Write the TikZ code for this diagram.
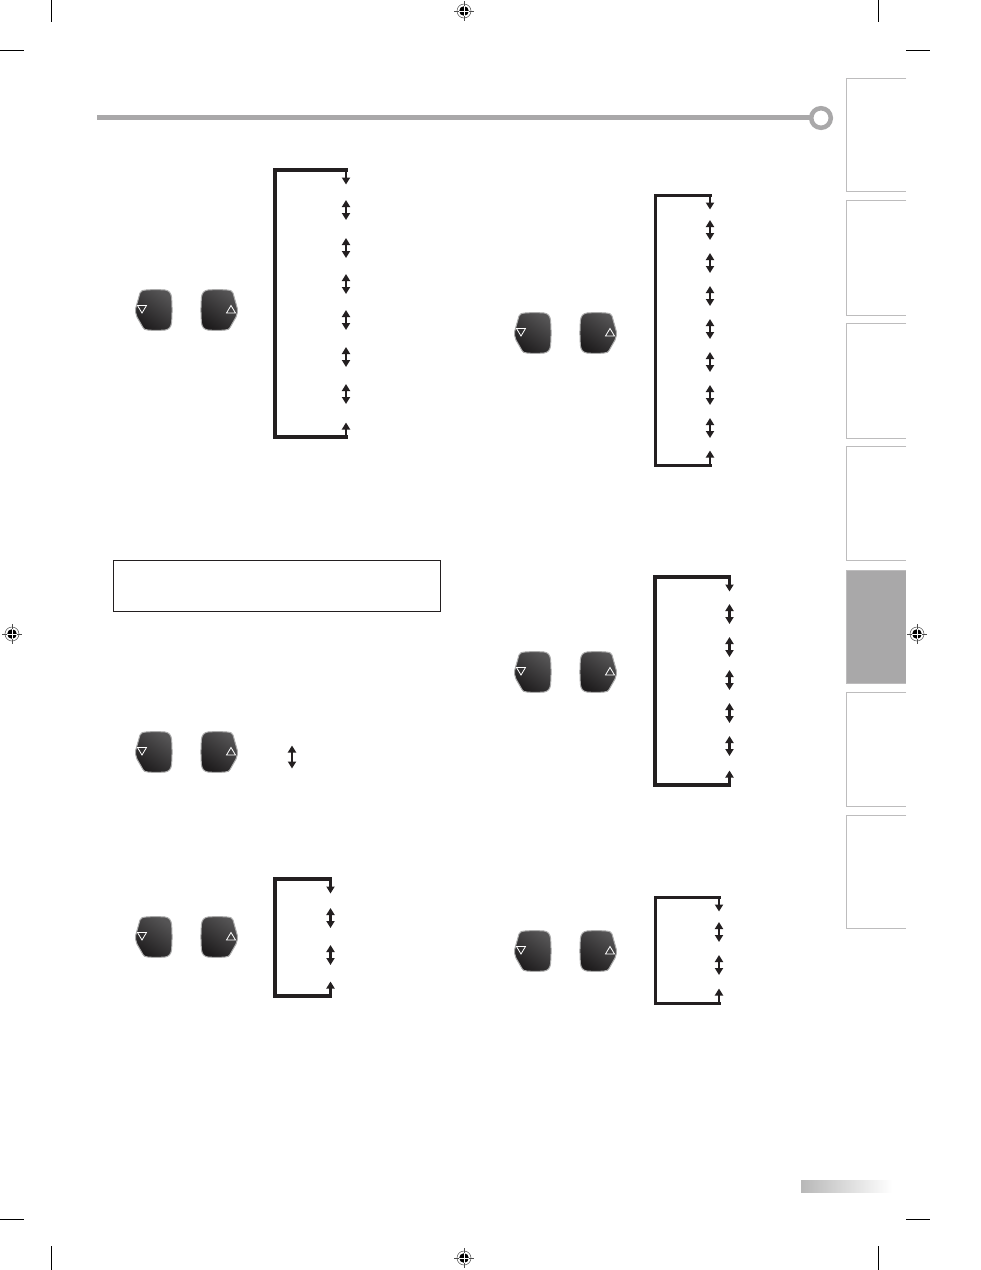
\documentclass[tikz,border=0pt]{standalone}
\usetikzlibrary{arrows.meta,shadings}
\definecolor{railgray}{HTML}{A9A8A9}
\definecolor{tabline}{HTML}{BDBCBD}
\definecolor{inkdark}{HTML}{231F20}
\definecolor{btnlight}{HTML}{555455}
\definecolor{btndark}{HTML}{1E1C1D}
\definecolor{btnedge}{HTML}{ABABAB}
\tikzset{
  x=1pt,y=-1pt,
  flow/.style={draw=inkdark,line width=#1,line cap=butt},
  flow/.default=3pt,
  tip/.style={-{Stealth[length=7pt,width=8pt,inset=0pt]}},
  duo/.style={{Stealth[length=7pt,width=8pt,inset=0pt]}-{Stealth[length=7pt,width=8pt,inset=0pt]}},
  tabbox/.style={draw=tabline,line width=1pt},
  crop/.style={draw=black,line width=1pt},
  btnbody/.style={draw=btnedge,line width=1pt,shading=axis,left color=btnlight,right color=btndark,shading angle=-35},
  btnmark/.style={draw=white,line width=0.8pt},
  pics/downbtn/.style={code={
    \draw[btnbody] (1.5,20) -- (6,4) .. controls (7,1.5) and (9,1) .. (12,1) .. controls (18,0.5) and (25,0.5) .. (31,1)
      .. controls (35,1.5) and (37,4) .. (37.5,8) .. controls (38.2,16) and (38.2,26) .. (37.5,34) .. controls (37,38) and (35,40.5) .. (31,41)
      .. controls (25,41.5) and (19,41.5) .. (14,41) .. controls (11,41) and (10,40) .. (9,38.5) -- (3,28) .. controls (1.8,25) and (1.2,22) .. (1.5,20) -- cycle;
    \draw[btnmark] (3.5,16.5) -- (12.5,16.5) -- (8,24) -- cycle;
  }},
  pics/upbtn/.style={code={
    \draw[btnbody] (36.5,20) -- (32,4) .. controls (31,1.5) and (29,1) .. (26,1) .. controls (20,0.5) and (13,0.5) .. (7,1)
      .. controls (3,1.5) and (1,4) .. (0.5,8) .. controls (-0.2,16) and (-0.2,26) .. (0.5,34) .. controls (1,38) and (3,40.5) .. (7,41)
      .. controls (13,41.5) and (19,41.5) .. (24,41) .. controls (27,41) and (28,40) .. (29,38.5) -- (35,28) .. controls (36.2,25) and (36.8,22) .. (36.5,20) -- cycle;
    \draw[btnmark] (25.5,24) -- (34.5,24) -- (30,16.5) -- cycle;
  }},
  pics/regmark/.style={code={
    \draw[black!70,line width=0.5pt] (0,0) circle (7pt);
    \draw[black!70,line width=0.5pt] (-10,0) -- (10,0) (0,-10) -- (0,10);
    \fill[black] (0,0) circle (4.8pt);
    \draw[white,line width=0.7pt] (-5,0) -- (5,0) (0,-5) -- (0,5);
  }}
}
% #1 name, #2 left x, #3 top y, #4 bottom y, #5 right x, #6 line width, #7 list of double-arrow centres
\newcommand{\loopflow}[7]{%
  \coordinate (#1tl) at (#2,#3);
  \coordinate (#1tr) at (#5,#3);
  \coordinate (#1tt) at (#5,#3+14.5);
  \coordinate (#1bl) at (#2,#4);
  \coordinate (#1br) at (#5,#4);
  \coordinate (#1bt) at (#5,#4-14.5);
  \draw[flow=#6,line join=miter,line cap=rect] (#1tr) -- (#1tl) -- (#1bl) -- (#1br);
  \draw[flow=2.6pt,tip] (#1tr) -- (#1tt);
  \draw[flow=2.6pt,tip] (#1br) -- (#1bt);
  \foreach \yy in {#7}{
    \coordinate (#1u\yy) at (#5,\yy-10);
    \coordinate (#1d\yy) at (#5,\yy+10);
    \draw[flow=2.8pt,duo] (#1u\yy) -- (#1d\yy);
  }%
}
\begin{document}
\begin{tikzpicture}
\useasboundingbox (0,0) rectangle (981,1270);
\fill[white] (0,0) rectangle (981,1270);

% crop marks
\draw[crop] (51,0) -- (51,22) (878,0) -- (878,22) (0,50) -- (24,50) (906,50) -- (930,50);
\draw[crop] (51,1246) -- (51,1270) (878,1246) -- (878,1270) (0,1219) -- (24,1219) (906,1219) -- (930,1219);
\pic at (464,11) {regmark};
\pic at (464,1258) {regmark};
\pic at (12,634) {regmark};
\pic at (917,634) {regmark};

% header rule
\draw[railgray,line width=5pt] (97,117.5) -- (811,117.5);
\draw[railgray,line width=4.5pt,fill=white] (821,118) circle (9.8pt);

% side tabs
\foreach \ta/\tb in {78/191,200/315,323/438,446/560,692/806,815/928}{
  \draw[tabbox] (906,\ta) -- (846.5,\ta) -- (846.5,\tb) -- (906,\tb);
}
\fill[railgray] (846,570) rectangle (906,683);
\draw[tabbox] (906,570) -- (846.5,570) -- (846.5,683) -- (906,683);

% page-number band
\shade[left color=black!28,right color=white] (801,1180) rectangle (892,1192);

% note box
\node[draw=inkdark,line width=0.9pt,minimum width=327pt,minimum height=51pt,anchor=north west,inner sep=0pt] (notebox) at (113,560) {};

% buttons
\foreach \bx/\by in {134/289,513/312,134/731,134/916,513/651,513/930}{
  \pic at (\bx,\by) {downbtn};
  \pic at (\bx+67,\by) {upbtn};
}

% flows
\loopflow{a}{275}{170}{437}{346}{3.6pt}{210,248,284,320,357,394}
\loopflow{b}{655}{195}{465}{710}{3pt}{230,263,296,329,362,395,428}
\loopflow{e}{655}{577}{785}{729.5}{3.2pt}{614,647,680,713,746}
\loopflow{d}{275}{879}{996}{330.5}{3.4pt}{918,955}
\loopflow{f}{655}{897}{1003}{719}{3pt}{932,965}

\coordinate (cu) at (292,745.5);
\coordinate (cd) at (292,768.5);
\draw[flow=2.8pt,duo] (cu) -- (cd);
\end{tikzpicture}
\end{document}
